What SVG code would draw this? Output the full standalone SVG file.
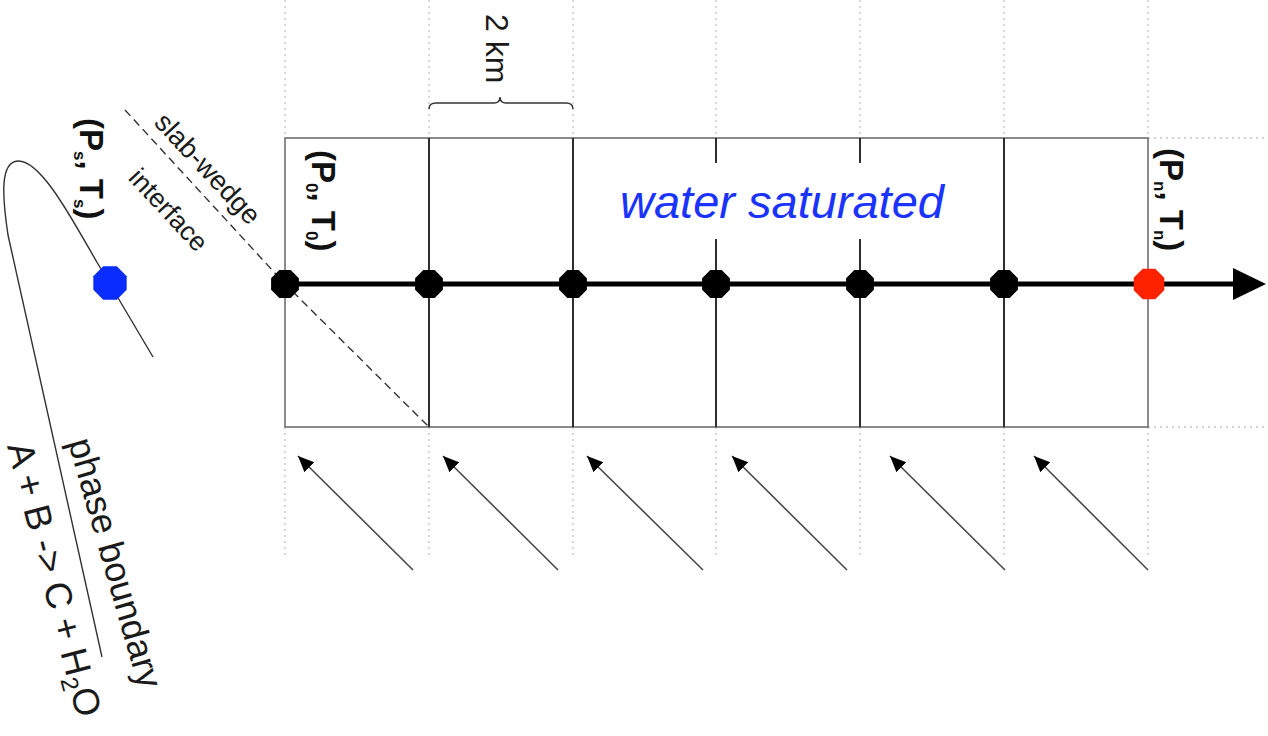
<svg xmlns="http://www.w3.org/2000/svg" width="1268" height="736" viewBox="0 0 1268 736">
<style>
.dot{stroke:#c4c4c4;stroke-width:1.3;stroke-dasharray:2,4;fill:none}
.outer{stroke:#6e6e6e;stroke-width:1.6;fill:none}
.inner{stroke:#1a1a1a;stroke-width:1.8;fill:none}
.flow{stroke:#4a4a4a;stroke-width:1.6;fill:none}
.lbl{font-family:"Liberation Sans",Arial,sans-serif;fill:#1a1a1a}
.pt{font-family:"Liberation Sans",Arial,sans-serif;font-weight:bold;font-size:33px;fill:#111}
.sub{font-size:17px}
</style>
<defs>
<marker id="ah" markerUnits="userSpaceOnUse" markerWidth="18" markerHeight="16" refX="16" refY="8" orient="auto">
<path d="M0,1 L16,8 L0,15 Z" fill="#000"/>
</marker>
<polygon id="oct" points="13.9,-5.7 13.9,5.7 5.7,13.9 -5.7,13.9 -13.9,5.7 -13.9,-5.7 -5.7,-13.9 5.7,-13.9"/>
</defs>
<rect width="1268" height="736" fill="#fff"/>

<g id="guides">
<path class="dot" d="M285,0V138M429,0V138M573,0V138M716,0V138M860,0V138M1004,0V138M1148,0V138"/>
<path class="dot" d="M285,427V558M429,427V558M573,427V558M716,427V558M860,427V558M1004,427V558M1148,427V558"/>
<path class="dot" d="M1148,138H1268M1148,427H1268"/>
</g>

<g id="grid">
<rect class="outer" x="285" y="138" width="863" height="289"/>
<path class="inner" d="M429,138V427M573,138V427M716,138V163M716,239V427M860,138V163M860,239V427M1004,138V427"/>
</g>

<g id="brace">
<path d="M429,109 Q429,103 436,103 L494,103 Q500,103 500,97 Q500,103 506,103 L566,103 Q573,103 573,109" fill="none" stroke="#333" stroke-width="1.4"/>
<text class="lbl" font-size="32" transform="translate(486,14) rotate(90)">2 km</text>
</g>

<g id="interface">
<polyline points="125,110 285,284 429,427" fill="none" stroke="#333" stroke-width="1.4" stroke-dasharray="8,5"/>
<text class="lbl" font-size="27.5" text-anchor="middle" transform="translate(201,175) rotate(47)">slab-wedge</text>
<text class="lbl" font-size="26.5" text-anchor="middle" transform="translate(162,216) rotate(47)">interface</text>
</g>

<g id="phase-boundary">
<path d="M153,357 L98,264 C75,225 42,160 18,161 C0,162 2,195 8,235 L102,657" fill="none" stroke="#333" stroke-width="1.4"/>
<text class="lbl" font-size="36" transform="translate(68,442) rotate(74)">phase boundary</text>
<text class="lbl" font-size="37" transform="translate(7,446) rotate(75.5)">A + B -&gt; C + H<tspan font-size="24" dy="7">2</tspan><tspan dy="-7">O</tspan></text>
</g>

<g id="axis">
<line x1="285" y1="284" x2="1236" y2="284" stroke="#000" stroke-width="5"/>
<polygon points="1233,268 1266,284 1233,300" fill="#000"/>
</g>

<g id="nodes">
<use href="#oct" transform="translate(285,284)" fill="#000"/>
<use href="#oct" transform="translate(429,284)" fill="#000"/>
<use href="#oct" transform="translate(573,284)" fill="#000"/>
<use href="#oct" transform="translate(716,284)" fill="#000"/>
<use href="#oct" transform="translate(860,284)" fill="#000"/>
<use href="#oct" transform="translate(1004,284)" fill="#000"/>
<use href="#oct" transform="translate(1149,284) scale(1.1)" fill="#ff2200"/>
<use href="#oct" transform="translate(110,283) scale(1.2)" fill="#0a2dff"/>
</g>

<g id="labels">
<text class="pt" transform="translate(312,150) rotate(90)">(P<tspan class="sub" dy="6">0</tspan><tspan dy="-6">, T</tspan><tspan class="sub" dy="6">0</tspan><tspan dy="-6">)</tspan></text>
<text class="pt" transform="translate(1160,148) rotate(90)">(P<tspan class="sub" dy="6">n</tspan><tspan dy="-6">, T</tspan><tspan class="sub" dy="6">n</tspan><tspan dy="-6">)</tspan></text>
<text class="pt" transform="translate(80,118) rotate(90)">(P<tspan class="sub" dy="6">s</tspan><tspan dy="-6">, T</tspan><tspan class="sub" dy="6">s</tspan><tspan dy="-6">)</tspan></text>
<text font-family="Liberation Sans,Arial,sans-serif" font-style="italic" font-size="47" fill="#1a33ff" x="620" y="218">water saturated</text>
</g>

<g id="connectors">
<line class="flow" x1="413" y1="570" x2="298" y2="456" marker-end="url(#ah)"/>
<line class="flow" x1="558" y1="570" x2="443" y2="456" marker-end="url(#ah)"/>
<line class="flow" x1="703" y1="570" x2="587" y2="456" marker-end="url(#ah)"/>
<line class="flow" x1="847" y1="570" x2="732" y2="456" marker-end="url(#ah)"/>
<line class="flow" x1="1005" y1="570" x2="890" y2="456" marker-end="url(#ah)"/>
<line class="flow" x1="1148" y1="570" x2="1034" y2="456" marker-end="url(#ah)"/>
</g>
</svg>
